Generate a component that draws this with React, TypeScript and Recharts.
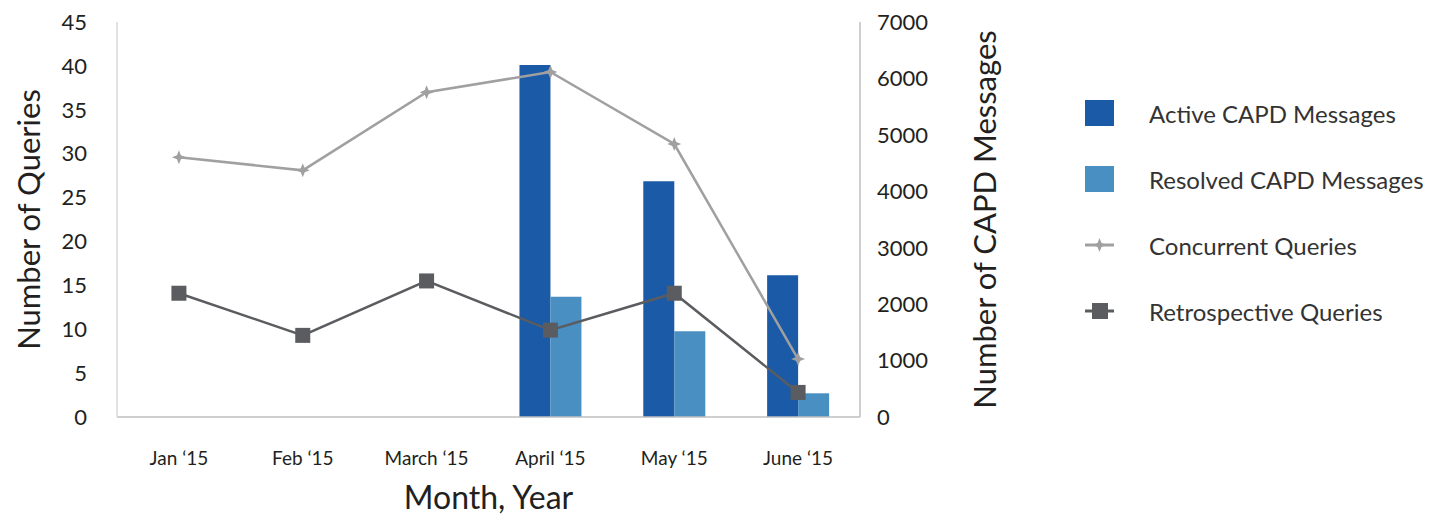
import {
  ComposedChart,
  Bar,
  Line,
  XAxis,
  YAxis,
  Legend,
} from "recharts";

const months = ["Jan \u201815", "Feb \u201815", "March \u201815", "April \u201815", "May \u201815", "June \u201815"];
const activeMessages = [null, null, null, 6240, 4180, 2510];
const resolvedMessages = [null, null, null, 2130, 1520, 420];
const concurrentQueries = [29.6, 28.1, 37.0, 39.3, 31.1, 6.6];
const retrospectiveQueries = [14.1, 9.3, 15.5, 9.9, 14.1, 2.8];
const queryTicks = [0, 5, 10, 15, 20, 25, 30, 35, 40, 45];
const messageTicks = [0, 1000, 2000, 3000, 4000, 5000, 6000, 7000];

const data = months.map((month, i) => ({
  month,
  active: activeMessages[i],
  resolved: resolvedMessages[i],
  concurrent: concurrentQueries[i],
  retrospective: retrospectiveQueries[i],
}));

const FONT = "Lato, 'Noto Sans', sans-serif";
const TEXT = "#231f20";

function StarDot(props: any) {
  const { cx, cy } = props;
  if (cx == null || cy == null) return null;
  const r = 7;
  const w = 2;
  const d = `M${cx},${cy - r} L${cx + w},${cy - w} L${cx + r},${cy} L${cx + w},${cy + w} L${cx},${cy + r} L${cx - w},${cy + w} L${cx - r},${cy} L${cx - w},${cy - w} Z`;
  return <path d={d} fill="#a0a0a0" />;
}

function SquareDot(props: any) {
  const { cx, cy } = props;
  if (cx == null || cy == null) return null;
  return <rect x={cx - 7.5} y={cy - 7.5} width={15} height={15} fill="#5b5c60" />;
}

const legendItems = [
  { name: "Active CAPD Messages", kind: "bar", color: "#1a5aa7" },
  { name: "Resolved CAPD Messages", kind: "bar", color: "#4a8fc2" },
  { name: "Concurrent Queries", kind: "star", color: "#a0a0a0" },
  { name: "Retrospective Queries", kind: "square", color: "#5b5c60" },
];

function LegendBox() {
  return (
    <div style={{ fontFamily: FONT }}>
      {legendItems.map((item) => (
        <div key={item.name} style={{ display: "flex", alignItems: "center", height: 66 }}>
          <svg width={30} height={28} style={{ marginRight: 34 }}>
            {item.kind === "bar" && <rect x={0} y={1} width={29} height={26} fill={item.color} />}
            {item.kind === "star" && (
              <g>
                <line x1={0} y1={14} x2={29} y2={14} stroke={item.color} strokeWidth={3} />
                <path d="M14.5,7 L16.5,12 L21.5,14 L16.5,16 L14.5,21 L12.5,16 L7.5,14 L12.5,12 Z" fill={item.color} />
              </g>
            )}
            {item.kind === "square" && (
              <g>
                <line x1={0} y1={14} x2={29} y2={14} stroke={item.color} strokeWidth={3} />
                <rect x={7} y={6} width={16} height={16} fill={item.color} />
              </g>
            )}
          </svg>
          <span style={{ fontSize: 24, color: "#333" }}>{item.name}</span>
        </div>
      ))}
    </div>
  );
}

export default function App() {
  return (
    <ComposedChart
      width={1429}
      height={509}
      data={data}
      margin={{ top: 14, right: 369, bottom: 0, left: 0 }}
      barCategoryGap="25%"
      barGap={0}
    >
      <XAxis
        dataKey="month"
        height={100}
        axisLine={{ stroke: "#bfbfbf", strokeWidth: 1.5 }}
        tickLine={false}
        tickMargin={29}
        tick={{ fill: TEXT, fontSize: 19, fontFamily: FONT }}
        label={{
          value: "Month, Year",
          position: "insideBottom",
          offset: 8,
          fill: TEXT,
          fontSize: 32,
          fontFamily: FONT,
        }}
      />
      <YAxis
        yAxisId="left"
        orientation="left"
        width={109}
        domain={[0, 45]}
        ticks={queryTicks}
        interval={0}
        axisLine={{ stroke: "#d9d9d9", strokeWidth: 1.5 }}
        tickLine={false}
        tickMargin={24}
        tick={{ fill: TEXT, fontSize: 22, fontFamily: FONT }}
        label={{
          value: "Number of Queries",
          angle: -90,
          position: "insideLeft",
          offset: 4,
          dx: 17,
          fill: TEXT,
          fontSize: 31,
          fontFamily: FONT,
          style: { textAnchor: "middle" },
        }}
      />
      <YAxis
        yAxisId="right"
        orientation="right"
        width={208}
        domain={[0, 7000]}
        ticks={messageTicks}
        interval={0}
        axisLine={{ stroke: "#bfbfbf", strokeWidth: 1.5 }}
        tickLine={false}
        tickMargin={11}
        tick={{ fill: TEXT, fontSize: 22, fontFamily: FONT }}
        label={{
          value: "Number of CAPD Messages",
          angle: -90,
          position: "insideLeft",
          dx: 120,
          fill: TEXT,
          fontSize: 31,
          fontFamily: FONT,
          style: { textAnchor: "middle" },
        }}
      />
      <Bar yAxisId="right" dataKey="active" name="Active CAPD Messages" fill="#1a5aa7" isAnimationActive={false} />
      <Bar yAxisId="right" dataKey="resolved" name="Resolved CAPD Messages" fill="#4a8fc2" isAnimationActive={false} />
      <Line
        yAxisId="left"
        dataKey="concurrent"
        name="Concurrent Queries"
        stroke="#a0a0a0"
        strokeWidth={2.5}
        dot={<StarDot />}
        activeDot={false}
        isAnimationActive={false}
      />
      <Line
        yAxisId="left"
        dataKey="retrospective"
        name="Retrospective Queries"
        stroke="#5b5c60"
        strokeWidth={2.5}
        dot={<SquareDot />}
        activeDot={false}
        isAnimationActive={false}
      />
      <Legend
        layout="vertical"
        align="center"
        verticalAlign="middle"
        content={() => <LegendBox />}
        wrapperStyle={{ position: "absolute", left: 1077, top: 72, width: 360 }}
      />
    </ComposedChart>
  );
}
